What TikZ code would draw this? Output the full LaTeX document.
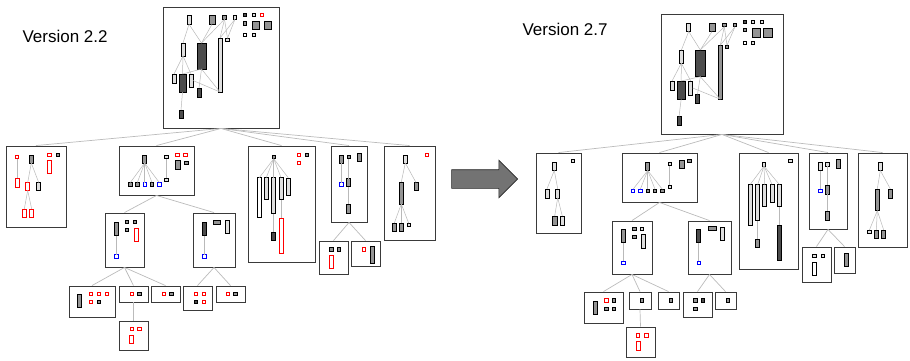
\documentclass[tikz,border=0pt]{standalone}
\usepackage{fontspec}
\setmainfont{Liberation Sans}
\usetikzlibrary{shapes.arrows}
\definecolor{boxline}{HTML}{3A3A3A}
\definecolor{edgegray}{HTML}{BBBBBB}

\begin{document}
\begin{tikzpicture}[x=1pt,y=-1pt,
    clu/.style 2 args={draw=boxline,line width=0.9pt,fill=white,inner sep=0pt,
      minimum width=#1,minimum height=#2},
    el/.style={draw=black,line width=0.6pt,inner sep=0pt,outer sep=0pt,minimum size=3.5pt},
    sz/.style 2 args={minimum width=#1,minimum height=#2},
    wh/.style={fill=white},
    lg/.style={fill=gray!25},
    mg/.style={fill=black!42},
    dg/.style={fill=black!70},
    rd/.style={draw=red,fill=white,line width=0.75pt},
    bl/.style={draw=blue,fill=white,line width=0.75pt},
    ln/.style={draw=gray!55,line width=0.5pt},
    tr/.style={draw=edgegray,line width=0.7pt},
    ttl/.style={font=\fontsize{17}{20}\selectfont},
    bigarr/.style={single arrow,draw=black!85,fill=black!55,line width=0.6pt,
      minimum height=66pt,inner xsep=0pt,inner ysep=9pt,single arrow head extend=9.5pt}]
  \useasboundingbox (0,0) rectangle (910,360);

  % titles and arrow
  \node[ttl,anchor=base west] (v22) at (19,42.5) {Version 2.2};
  \node[ttl,anchor=base west] (v27) at (519,35) {Version 2.7};
  \node[bigarr] (go) at (480,179) {};

  % version 2.2: cluster boxes
  \node[clu={116}{121}] (top22) at (221,67.5) {};
  \node[clu={60}{81}] (c1) at (36,186.5) {};
  \node[clu={75}{49}] (c2) at (156.5,170.5) {};
  \node[clu={67}{116}] (c3) at (281.5,204) {};
  \node[clu={36}{76}] (c4) at (349,184) {};
  \node[clu={51}{94}] (c5) at (409.5,193) {};
  \node[clu={39}{54}] (c21) at (124.5,240) {};
  \node[clu={42}{54}] (c22) at (214,240) {};
  \node[clu={46}{31}] (c211) at (92,301.5) {};
  \node[clu={29}{16}] (c212) at (133.5,294) {};
  \node[clu={29}{16}] (c213) at (165.5,294) {};
  \node[clu={29}{29}] (c2121) at (133.5,335.5) {};
  \node[clu={29}{24}] (c221) at (197.5,298) {};
  \node[clu={29}{16}] (c222) at (230.5,294) {};
  \node[clu={29}{33}] (c41) at (333.5,257.5) {};
  \node[clu={29}{25}] (c42) at (365.5,253.5) {};

  % version 2.7: cluster boxes
  \node[clu={122}{120}] (top27) at (722,74) {};
  \node[clu={45}{80}] (d1) at (558.5,193) {};
  \node[clu={75}{49}] (d2) at (659.5,177.5) {};
  \node[clu={59}{116}] (d3) at (768.5,211) {};
  \node[clu={38}{76}] (d4) at (828,191) {};
  \node[clu={49}{94}] (d5) at (882.5,200) {};
  \node[clu={40}{53}] (d21) at (632,247.5) {};
  \node[clu={43}{53}] (d22) at (709.5,247.5) {};
  \node[clu={39}{31}] (d211) at (603.5,307.5) {};
  \node[clu={22}{17}] (d212) at (640,300.5) {};
  \node[clu={21}{17}] (d213) at (668.5,300.5) {};
  \node[clu={29}{30}] (d2121) at (640.5,342) {};
  \node[clu={29}{25}] (d221) at (697.5,304.5) {};
  \node[clu={21}{17}] (d222) at (725.5,300.5) {};
  \node[clu={29}{35}] (d41) at (816.5,264.5) {};
  \node[clu={21}{26}] (d42) at (844.5,260) {};

  % tree edges
  \foreach \p/\q in {top22/c,top27/d} {
    \foreach \c in {1,...,5} \draw[tr] (\p.south) -- (\q\c.north);
    \foreach \c in {21,22} \draw[tr] (\q2.south) -- (\q\c.north);
    \foreach \c in {211,212,213} \draw[tr] (\q21.south) -- (\q\c.north);
    \draw[tr] (\q212.south) -- (\q2121.north);
    \foreach \c in {221,222} \draw[tr] (\q22.south) -- (\q\c.north);
    \foreach \c in {41,42} \draw[tr] (\q4.south) -- (\q\c.north);
  }

  % top box 2.2
  \node[el,lg,sz={4.3}{8.6}] (t2a) at (189,20) {};
  \node[el,mg,sz={6}{8.6}] (t2b) at (212,20) {};
  \node[el,mg] (t2c) at (224.5,17.5) {};
  \node[el,lg] (t2d) at (235,17.5) {};
  \node[el,dg] (t2e) at (245,15) {};
  \node[el,lg] (t2f) at (254,15) {};
  \node[el,rd] (t2g) at (262,15) {};
  \node[el,mg] (t2h) at (245,23.5) {};
  \node[el,mg,sz={7}{8}] (t2i) at (255.5,25) {};
  \node[el,mg,sz={7}{8}] (t2j) at (267.5,25) {};
  \node[el,wh] (t2k) at (245,35) {};
  \node[el,lg] (t2l) at (254,35) {};
  \node[el,lg] (t2m) at (227.5,40) {};
  \node[el,lg,sz={4}{13}] (t2n) at (183,49.5) {};
  \node[el,dg,sz={9}{26}] (t2o) at (201.5,56) {};
  \node[el,lg,sz={4}{54}] (t2p) at (220,65) {};
  \node[el,lg,sz={4}{9}] (t2q) at (174,78.5) {};
  \node[el,dg,sz={7}{18}] (t2r) at (182.5,83) {};
  \node[el,lg,sz={4}{13}] (t2s) at (191,80.5) {};
  \node[el,dg,sz={4}{9}] (t2t) at (199,92.5) {};
  \node[el,dg,sz={4}{8}] (t2u) at (181,114) {};

  % top box 2.7
  \node[el,lg,sz={4}{8}] (t7a) at (688.7,27.5) {};
  \node[el,mg,sz={6}{8}] (t7b) at (712,27.5) {};
  \node[el,mg] (t7c) at (724.3,25) {};
  \node[el,mg] (t7d) at (735,25) {};
  \node[el,dg] (t7e) at (745,21.7) {};
  \node[el,lg] (t7f) at (753,21.7) {};
  \node[el,lg] (t7g) at (762,21.7) {};
  \node[el,mg] (t7h) at (745,30) {};
  \node[el,mg,sz={8}{9}] (t7i) at (756,33) {};
  \node[el,mg,sz={9}{9}] (t7j) at (768,33) {};
  \node[el,wh] (t7k) at (745,42.7) {};
  \node[el,lg] (t7l) at (753,42.7) {};
  \node[el,mg] (t7m) at (727,47) {};
  \node[el,lg,sz={4}{13}] (t7n) at (681.3,56.7) {};
  \node[el,dg,sz={10.7}{26.7}] (t7o) at (700.3,63.3) {};
  \node[el,mg,sz={4}{54}] (t7p) at (720.3,72.2) {};
  \node[el,lg,sz={4}{9}] (t7q) at (672,85.5) {};
  \node[el,dg,sz={7.7}{18}] (t7r) at (681.2,90) {};
  \node[el,lg,sz={4}{14}] (t7s) at (690.7,88) {};
  \node[el,dg,sz={4.3}{9}] (t7t) at (697.5,98.8) {};
  \node[el,dg,sz={4}{9}] (t7u) at (679,121.2) {};

  \foreach \p in {t2,t7} {
    \foreach \u/\v in {a/n,a/o,b/o,c/o,c/p,c/m,d/p,d/m,n/q,n/r,n/s,o/r,o/t,r/u}
      \draw[ln] (\p\u.south) -- (\p\v.north);
    \draw[ln] (\p o.south) -- (\p p.south);
    \draw[ln] (\p s.east) -- (\p p.south);
  }

  % version 2.2 clusters
  \node[el,rd] (c1a) at (17,157) {};
  \node[el,rd,sz={4}{9}] (c1b) at (17,182.5) {};
  \node[el,mg,sz={4}{8}] (c1c) at (31.3,159) {};
  \node[el,rd] (c1d) at (49.3,154.7) {};
  \node[el,mg] (c1e) at (57.7,154.7) {};
  \node[el,rd,sz={4}{13}] (c1f) at (49.3,167) {};
  \node[el,rd,sz={4}{8}] (c1g) at (27.7,186.5) {};
  \node[el,lg,sz={4}{8}] (c1h) at (38.7,186.5) {};
  \node[el,rd,sz={4}{8}] (c1i) at (24.3,213) {};
  \node[el,rd,sz={4}{8}] (c1j) at (31.7,213) {};
  \foreach \u/\v in {a/b,c/g,c/h,g/i,g/j} \draw[ln] (c1\u.south) -- (c1\v.north);

  \node[el,mg,sz={4}{8}] (c2a) at (144.7,159) {};
  \node[el,mg] (c2b) at (130.3,184.3) {};
  \node[el,mg] (c2c) at (137.3,184.3) {};
  \node[el,bl] (c2d) at (144.7,184.3) {};
  \node[el,mg] (c2e) at (152,184.3) {};
  \node[el,bl] (c2f) at (159.3,184.3) {};
  \node[el,lg] (c2g) at (166.3,157) {};
  \node[el,lg] (c2h) at (166.3,179.7) {};
  \node[el,rd] (c2i) at (177.3,154.7) {};
  \node[el,rd] (c2j) at (185.3,154.7) {};
  \node[el,mg,sz={5}{9}] (c2k) at (178,165) {};
  \node[el,mg] (c2l) at (186.3,162.7) {};
  \foreach \u/\v in {a/b,a/c,a/d,a/e,a/f,g/h} \draw[ln] (c2\u.south) -- (c2\v.north);

  \node[el,mg] (c3a) at (273.7,157) {};
  \node[el,rd] (c3b) at (298.7,154.7) {};
  \node[el,mg] (c3c) at (307,154.7) {};
  \node[el,rd] (c3d) at (298.7,162.7) {};
  \node[el,wh,sz={4}{40}] (c3e) at (259.3,197.7) {};
  \node[el,lg,sz={4}{22}] (c3f) at (266.3,188.5) {};
  \node[el,lg,sz={4}{36}] (c3g) at (273.7,195.5) {};
  \node[el,lg,sz={4}{22}] (c3h) at (281,188.5) {};
  \node[el,lg,sz={4}{17}] (c3i) at (288.3,186.3) {};
  \node[el,dg,sz={4}{8}] (c3j) at (273.7,235.8) {};
  \node[el,rd,sz={4}{35}] (c3k) at (281,235.8) {};
  \foreach \u/\v in {a/e,a/f,a/g,a/h,a/i,g/j,h/k} \draw[ln] (c3\u.south) -- (c3\v.north);

  \node[el,mg,sz={4}{8}] (c4a) at (341.3,159) {};
  \node[el,bl] (c4b) at (341.3,184.3) {};
  \node[el,mg] (c4c) at (348.7,157) {};
  \node[el,mg,sz={4}{8}] (c4d) at (348.7,182.5) {};
  \node[el,mg,sz={4}{9}] (c4e) at (348.7,208.5) {};
  \node[el,mg,sz={4}{8}] (c4f) at (359.3,157) {};
  \foreach \u/\v in {a/b,c/d,d/e} \draw[ln] (c4\u.south) -- (c4\v.north);

  \node[el,lg,sz={4}{8}] (c5a) at (405.3,159) {};
  \node[el,rd] (c5b) at (427,154.7) {};
  \node[el,mg,sz={4}{22}] (c5c) at (401.3,193) {};
  \node[el,mg,sz={4}{8}] (c5d) at (416,186.5) {};
  \node[el,mg,sz={4}{8}] (c5e) at (394.3,227) {};
  \node[el,mg,sz={4}{8}] (c5f) at (401.3,227) {};
  \node[el,lg] (c5g) at (408.7,225) {};
  \foreach \u/\v in {a/c,a/d,c/e,c/f,c/g} \draw[ln] (c5\u.south) -- (c5\v.north);

  \node[el,mg,sz={4}{13}] (c21a) at (116.3,229) {};
  \node[el,bl] (c21b) at (116.3,256.3) {};
  \node[el,mg] (c21c) at (127,222) {};
  \node[el,mg] (c21d) at (134.7,222) {};
  \node[el,mg] (c21e) at (127,230) {};
  \node[el,rd,sz={4}{13}] (c21f) at (136,234.7) {};
  \draw[ln] (c21a.south) -- (c21b.north);

  \node[el,dg,sz={4.5}{13}] (c22a) at (204.5,229) {};
  \node[el,bl] (c22b) at (204.5,256.3) {};
  \node[el,mg,sz={7}{4}] (c22c) at (217,222) {};
  \node[el,lg,sz={4}{13}] (c22d) at (227,226.7) {};
  \draw[ln] (c22a.south) -- (c22b.north);

  \node[el,mg,sz={4}{13}] (c211a) at (79.7,301) {};
  \node[el,rd] (c211b) at (91,294) {};
  \node[el,rd] (c211c) at (98.7,294) {};
  \node[el,rd] (c211d) at (107,294) {};
  \node[el,rd] (c211e) at (91,302) {};
  \node[el,mg] (c211f) at (98.7,302) {};
  \node[el,rd] (c212a) at (132,294) {};
  \node[el,mg] (c212b) at (139.3,294) {};
  \node[el,rd] (c213a) at (163.7,294) {};
  \node[el,mg] (c213b) at (171.3,294) {};
  \node[el,rd] (c2121a) at (132,329) {};
  \node[el,rd] (c2121b) at (139.3,329) {};
  \node[el,rd,sz={4}{8}] (c2121c) at (131.5,339) {};
  \node[el,rd] (c221a) at (196,294) {};
  \node[el,rd] (c221b) at (203.7,294) {};
  \node[el,dg] (c221c) at (196,302) {};
  \node[el,rd] (c221d) at (203.7,302) {};
  \node[el,rd] (c222a) at (228,294) {};
  \node[el,mg] (c222b) at (235.3,294) {};
  \node[el,mg] (c41a) at (331.3,249.3) {};
  \node[el,mg] (c41b) at (339,249.3) {};
  \node[el,rd,sz={4}{13}] (c41c) at (331.3,261.7) {};
  \node[el,rd] (c42a) at (364,249.3) {};
  \node[el,mg,sz={4}{17}] (c42b) at (372,255) {};

  % version 2.7 clusters
  \node[el,lg,sz={4}{8}] (d1a) at (554.3,166.5) {};
  \node[el,lg] (d1b) at (573,161) {};
  \node[el,lg,sz={4}{9}] (d1c) at (547,193.3) {};
  \node[el,lg,sz={4}{9}] (d1d) at (557.7,193.3) {};
  \node[el,mg,sz={4.5}{9}] (d1e) at (554.7,220.5) {};
  \node[el,lg,sz={4.5}{9}] (d1f) at (562.3,220.5) {};
  \foreach \u/\v in {a/c,a/d,d/e,d/f} \draw[ln] (d1\u.south) -- (d1\v.north);

  \node[el,mg,sz={4}{8}] (d2a) at (647.7,166.5) {};
  \node[el,bl] (d2b) at (633,191) {};
  \node[el,bl] (d2c) at (640.3,191) {};
  \node[el,mg] (d2d) at (647.7,191) {};
  \node[el,mg] (d2e) at (655,191) {};
  \node[el,mg] (d2f) at (662.3,191) {};
  \node[el,lg] (d2g) at (669.7,164) {};
  \node[el,lg] (d2h) at (669.7,187) {};
  \node[el,mg,sz={5}{8}] (d2i) at (681.7,164) {};
  \node[el,mg] (d2j) at (689.3,161) {};
  \foreach \u/\v in {a/b,a/c,a/d,a/e,a/f,g/h} \draw[ln] (d2\u.south) -- (d2\v.north);

  \node[el,lg] (d3a) at (764,164.3) {};
  \node[el,lg] (d3b) at (790.3,161) {};
  \node[el,lg,sz={4}{40.7}] (d3c) at (750.3,204.7) {};
  \node[el,lg,sz={4}{36}] (d3d) at (757.7,202.5) {};
  \node[el,lg,sz={4}{22}] (d3e) at (764.7,195.5) {};
  \node[el,lg,sz={4}{18}] (d3f) at (772,193.5) {};
  \node[el,lg,sz={4}{22}] (d3g) at (779.3,195.5) {};
  \node[el,mg,sz={4}{8}] (d3h) at (757.7,243.2) {};
  \node[el,dg,sz={4}{35}] (d3i) at (779.3,242.5) {};
  \foreach \u/\v in {a/c,a/d,a/e,a/f,a/g,d/h,g/i} \draw[ln] (d3\u.south) -- (d3\v.north);

  \node[el,lg,sz={4}{8}] (d4a) at (820.3,166.5) {};
  \node[el,lg] (d4b) at (827.3,164.3) {};
  \node[el,bl] (d4c) at (820.3,191) {};
  \node[el,mg,sz={4}{9}] (d4d) at (827.3,189.5) {};
  \node[el,mg,sz={4}{9}] (d4e) at (827.3,215.5) {};
  \node[el,mg,sz={4}{9}] (d4f) at (838,163.3) {};
  \foreach \u/\v in {a/c,b/d,d/e} \draw[ln] (d4\u.south) -- (d4\v.north);

  \node[el,lg,sz={4}{8}] (d5a) at (880.3,166.5) {};
  \node[el,mg,sz={4}{9}] (d5b) at (890.3,193.3) {};
  \node[el,mg,sz={4.7}{21.7}] (d5c) at (877.3,199.8) {};
  \node[el,lg] (d5d) at (869.3,232) {};
  \node[el,mg,sz={4}{8}] (d5e) at (876.3,234) {};
  \node[el,mg,sz={4}{8}] (d5f) at (883.7,234) {};
  \foreach \u/\v in {a/b,a/c,c/d,c/e,c/f} \draw[ln] (d5\u.south) -- (d5\v.north);

  \node[el,mg,sz={4.3}{13}] (d21a) at (623.2,236) {};
  \node[el,bl] (d21b) at (623.2,263) {};
  \node[el,mg] (d21c) at (634.3,228.7) {};
  \node[el,lg] (d21d) at (642,228.7) {};
  \node[el,mg] (d21e) at (634.3,236.7) {};
  \node[el,lg,sz={4.3}{13.7}] (d21f) at (643,241.5) {};
  \draw[ln] (d21a.south) -- (d21b.north);

  \node[el,dg,sz={4}{13}] (d22a) at (698.7,236) {};
  \node[el,bl] (d22b) at (698.7,263) {};
  \node[el,mg,sz={8}{4}] (d22c) at (712.5,228.7) {};
  \node[el,lg,sz={4}{13}] (d22d) at (722,233.3) {};
  \draw[ln] (d22a.south) -- (d22b.north);

  \node[el,mg,sz={4}{13}] (d211a) at (595.3,307.3) {};
  \node[el,rd] (d211b) at (606.3,300.3) {};
  \node[el,mg] (d211c) at (613.7,300.3) {};
  \node[el,mg] (d211d) at (606.3,308.7) {};
  \node[el,mg] (d211e) at (613.7,308.7) {};
  \node[el,mg] (d212a) at (642,300.3) {};
  \node[el,mg] (d213a) at (671,300.3) {};
  \node[el,rd] (d2121a) at (638,335.3) {};
  \node[el,rd] (d2121b) at (646.3,335.3) {};
  \node[el,rd,sz={4}{9}] (d2121c) at (638,346.2) {};
  \node[el,mg] (d221a) at (695.3,300.3) {};
  \node[el,dg] (d221b) at (702.7,300.3) {};
  \node[el,mg] (d221c) at (695.3,308.7) {};
  \node[el,mg] (d222a) at (727.7,300.3) {};
  \node[el,lg] (d41a) at (814.3,256) {};
  \node[el,lg] (d41b) at (822.7,256) {};
  \node[el,wh,sz={4}{13}] (d41c) at (814.3,268.3) {};
  \node[el,mg,sz={4}{13}] (d42a) at (846.3,260) {};
\end{tikzpicture}
\end{document}
